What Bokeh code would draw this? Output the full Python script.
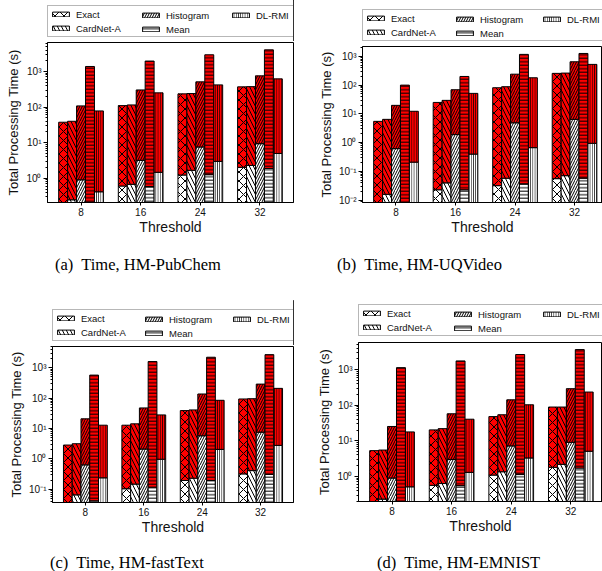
from bokeh.plotting import figure
from bokeh.models import Range1d, FixedTicker, Legend, LegendItem, ColumnDataSource, Div
from bokeh.layouts import row, column
from bokeh.embed import file_html
from bokeh.resources import INLINE

methods = ["Exact", "CardNet-A", "Histogram", "Mean", "DL-RMI"]
thresholds = [8, 16, 24, 32]

# rows follow `methods`; *_low = white (lower) segment, *_total = top of the red segment
pubchem_low = [[0.15, 0.61, 1.24, 2.04], [0.25, 0.68, 1.68, 2.3], [0.91, 3.2, 7.6, 9.4],
               [0.19, 0.59, 1.27, 1.9], [0.42, 1.48, 3.0, 5.0]]
pubchem_total = [[37.6, 110, 235, 370], [40, 115, 240, 375], [108, 303, 511, 753],
                 [1380, 1960, 2930, 4050], [78, 251, 420, 620]]

uqvideo_low = [[0.006, 0.023, 0.032, 0.056], [0.016, 0.040, 0.058, 0.071], [0.62, 1.9, 4.9, 6.45],
               [0.006, 0.023, 0.037, 0.058], [0.21, 0.40, 0.67, 0.95]]
uqvideo_total = [[5.5, 25, 81, 256], [6.45, 29.5, 88, 262], [19.8, 69, 240, 648],
                 [100, 200, 1170, 1260], [12.3, 51.6, 180, 525]]

fasttext_low = [[0.03, 0.105, 0.196, 0.323], [0.066, 0.149, 0.233, 0.415], [0.64, 2.12, 5.8, 7.6],
                [0.042, 0.118, 0.196, 0.31], [0.24, 0.98, 2.07, 2.8]]
fasttext_total = [[2.87, 12.9, 39, 94], [3.17, 14.3, 41, 96], [20.9, 47.7, 137, 290],
                  [573, 1600, 2220, 2700], [12.9, 28.1, 85, 210]]

emnist_low = [[0.15, 0.56, 1.09, 1.8], [0.23, 0.63, 1.35, 2.18], [0.9, 3.0, 7.2, 9.1],
              [0.2, 0.55, 1.14, 1.72], [0.51, 1.3, 3.3, 5.1]]
emnist_total = [[5.3, 20.3, 48, 89], [5.5, 22, 54, 89], [25.3, 57.5, 142, 292],
                [1140, 1760, 2660, 3670], [17.8, 40.5, 103, 235]]

yticks_a = [1, 10, 100, 1000]
ylabels_a = ["10\u2070", "10\u00b9", "10\u00b2", "10\u00b3"]
yticks_b = [0.01, 0.1, 1, 10, 100, 1000]
ylabels_b = ["10\u207b\u00b2", "10\u207b\u00b9", "10\u2070", "10\u00b9", "10\u00b2", "10\u00b3"]
yticks_c = [0.1, 1, 10, 100, 1000]
ylabels_c = ["10\u207b\u00b9", "10\u2070", "10\u00b9", "10\u00b2", "10\u00b3"]
yticks_d = [1, 10, 100, 1000]
ylabels_d = ["10\u2070", "10\u00b9", "10\u00b2", "10\u00b3"]

captions = ["(a)&nbsp; Time, HM-PubChem", "(b)&nbsp; Time, HM-UQVideo",
            "(c)&nbsp; Time, HM-fastText", "(d)&nbsp; Time, HM-EMNIST"]

# ---- styling -------------------------------------------------------------
hatches = ["x", "\\", "/", "-", "|"]
hatch_scales = [9, 8, 5, 3.5, 2.2]
BAR_W = 1.2
FONT = "Liberation Sans"
TXT = "#111111"


def bar_style(i, fill):
    return dict(fill_color=fill, line_color="black", line_width=1,
                hatch_pattern=hatches[i], hatch_scale=hatch_scales[i],
                hatch_color="black", hatch_weight=1)


def make_legend_fig(W, H, low, vx, vy1):
    # frame of this strip is aligned with the panel's frame by the column layout
    lf = figure(width=W, height=H, x_range=Range1d(0, 1), y_range=Range1d(0, 1),
                x_axis_location=None, y_axis_location=None, output_backend="svg",
                toolbar_location=None, tools="", min_border=0)
    lf.outline_line_color = None
    lf.xgrid.visible = False
    lf.ygrid.visible = False
    # swatch renderers (their bars fall outside this strip's range)
    rs = [lf.vbar(x=thresholds, top=low[i], width=BAR_W, **bar_style(i, "white"))
          for i in range(len(methods))]
    common = dict(glyph_width=21, glyph_height=6, label_standoff=5, label_height=12,
                  spacing=2, margin=0, label_text_font=FONT, label_text_font_size="9.5px",
                  label_text_color=TXT)
    vx1, vx2, vx3 = vx
    leg1 = Legend(items=[LegendItem(label=methods[0], renderers=[rs[0]]),
                         LegendItem(label=methods[1], renderers=[rs[1]])],
                  location=(vx1, vy1), padding=2, label_width=216,
                  border_line_color="#707070", border_line_width=1,
                  background_fill_color="white", background_fill_alpha=1, **common)
    leg2 = Legend(items=[LegendItem(label=methods[2], renderers=[rs[2]]),
                         LegendItem(label=methods[3], renderers=[rs[3]])],
                  location=(vx2, vy1 + 2), padding=0, border_line_alpha=0,
                  background_fill_alpha=0, **common)
    leg3 = Legend(items=[LegendItem(label=methods[4], renderers=[rs[4]])],
                  location=(vx3, vy1 + 16), padding=0, border_line_alpha=0,
                  background_fill_alpha=0, **common)
    for lg in (leg1, leg2, leg3):
        lf.add_layout(lg, "center")
    return lf


def make_panel(low, total, yticks, ylabels, y_lo, y_hi, cfg):
    W, H, bl, br, bt, bb = cfg["size"]
    p = figure(width=W, height=H, y_axis_type="log",
               x_range=Range1d(3.5, cfg["x_end"]), y_range=Range1d(y_lo, y_hi),
               output_backend="svg", toolbar_location=None, tools="",
               min_border_left=bl, min_border_right=br, min_border_top=bt, min_border_bottom=bb)
    p.background_fill_color = "white"
    p.border_fill_color = "white"
    p.outline_line_color = "black"
    p.outline_line_width = 1
    p.xgrid.visible = False
    p.ygrid.visible = False

    for i, name in enumerate(methods):
        xs = [t + (i - 2) * BAR_W for t in thresholds]
        src = ColumnDataSource(dict(x=xs, low=low[i], total=total[i], base=[y_lo / 10.0] * len(xs)))
        p.vbar(x="x", width=BAR_W, bottom="base", top="low", source=src, **bar_style(i, "white"))
        p.vbar(x="x", width=BAR_W, bottom="low", top="total", source=src, **bar_style(i, "#ff0000"))

    p.xaxis.ticker = FixedTicker(ticks=thresholds)
    p.xaxis.axis_label = "Threshold"
    minor = []
    for t in yticks + [yticks[0] / 10.0]:
        for m in range(2, 10):
            minor.append(t * m)
    p.yaxis.ticker = FixedTicker(ticks=yticks, minor_ticks=minor)
    p.yaxis.major_label_overrides = {float(t): lab for t, lab in zip(yticks, ylabels)}
    p.yaxis.axis_label = "Total Processing Time (s)"
    for ax in (p.xaxis[0], p.yaxis[0]):
        ax.axis_line_color = "black"
        ax.major_tick_line_color = "black"
        ax.major_tick_in = 0
        ax.major_label_text_font = FONT
        ax.major_label_text_font_size = "10px"
        ax.major_label_text_color = TXT
        ax.axis_label_text_font = FONT
        ax.axis_label_text_font_style = "normal"
        ax.axis_label_text_color = TXT
        ax.major_label_standoff = 2
    p.xaxis.major_tick_out = 3
    p.xaxis.minor_tick_line_color = None
    p.xaxis.axis_label_text_font_size = "14px"
    p.xaxis.axis_label_standoff = 0
    p.yaxis.major_tick_out = 4
    p.yaxis.minor_tick_out = 2
    p.yaxis.minor_tick_in = 0
    p.yaxis.minor_tick_line_color = "black"
    p.yaxis.axis_label_text_font_size = "13px"
    p.yaxis.axis_label_standoff = 2
    return p


def make_caption(text, W, H, left, top):
    html = ('<div style="margin-top:%dpx; margin-left:%dpx; font-family:\'Liberation Serif\'; '
            'font-size:16.5px; line-height:20px; white-space:nowrap; color:#000;">%s</div>'
            % (top, left, text))
    return Div(text=html, width=W, height=H, margin=0)


cfg_a = dict(size=(300, 196, 47, 7, 1, 35), x_end=36.5)
cfg_b = dict(size=(302, 192, 62, 0, 1, 35), x_end=35.76)
cfg_c = dict(size=(300, 192, 52, 7, 1, 35), x_end=36.5)
cfg_d = dict(size=(302, 195, 58, 0, 1, 35), x_end=36.25)

pa = make_panel(pubchem_low, pubchem_total, yticks_a, ylabels_a, 0.21, 6500, cfg_a)
pb = make_panel(uqvideo_low, uqvideo_total, yticks_b, ylabels_b, 0.0083, 2200, cfg_b)
pc = make_panel(fasttext_low, fasttext_total, yticks_c, ylabels_c, 0.037, 5000, cfg_c)
pd = make_panel(emnist_low, emnist_total, yticks_d, ylabels_d, 0.197, 5800, cfg_d)

la = make_legend_fig(300, 41, pubchem_low, (0, 93, 183), 4)
lb = make_legend_fig(302, 45, uqvideo_low, (0, 92, 179), 4)
lc = make_legend_fig(300, 45, fasttext_low, (0, 91, 179), 4)
ld = make_legend_fig(302, 41, emnist_low, (0, 94, 183), 5)

ca = make_caption(captions[0], 300, 63, 55, 18)
cb = make_caption(captions[1], 302, 63, 37, 18)
cc = make_caption(captions[2], 300, 34, 50, 16)
cd = make_caption(captions[3], 302, 35, 77, 17)

layout = column(row(column(la, pa, ca), column(lb, pb, cb)),
                row(column(lc, pc, cc), column(ld, pd, cd)))
open("out.html", "w").write(file_html(layout, INLINE))
